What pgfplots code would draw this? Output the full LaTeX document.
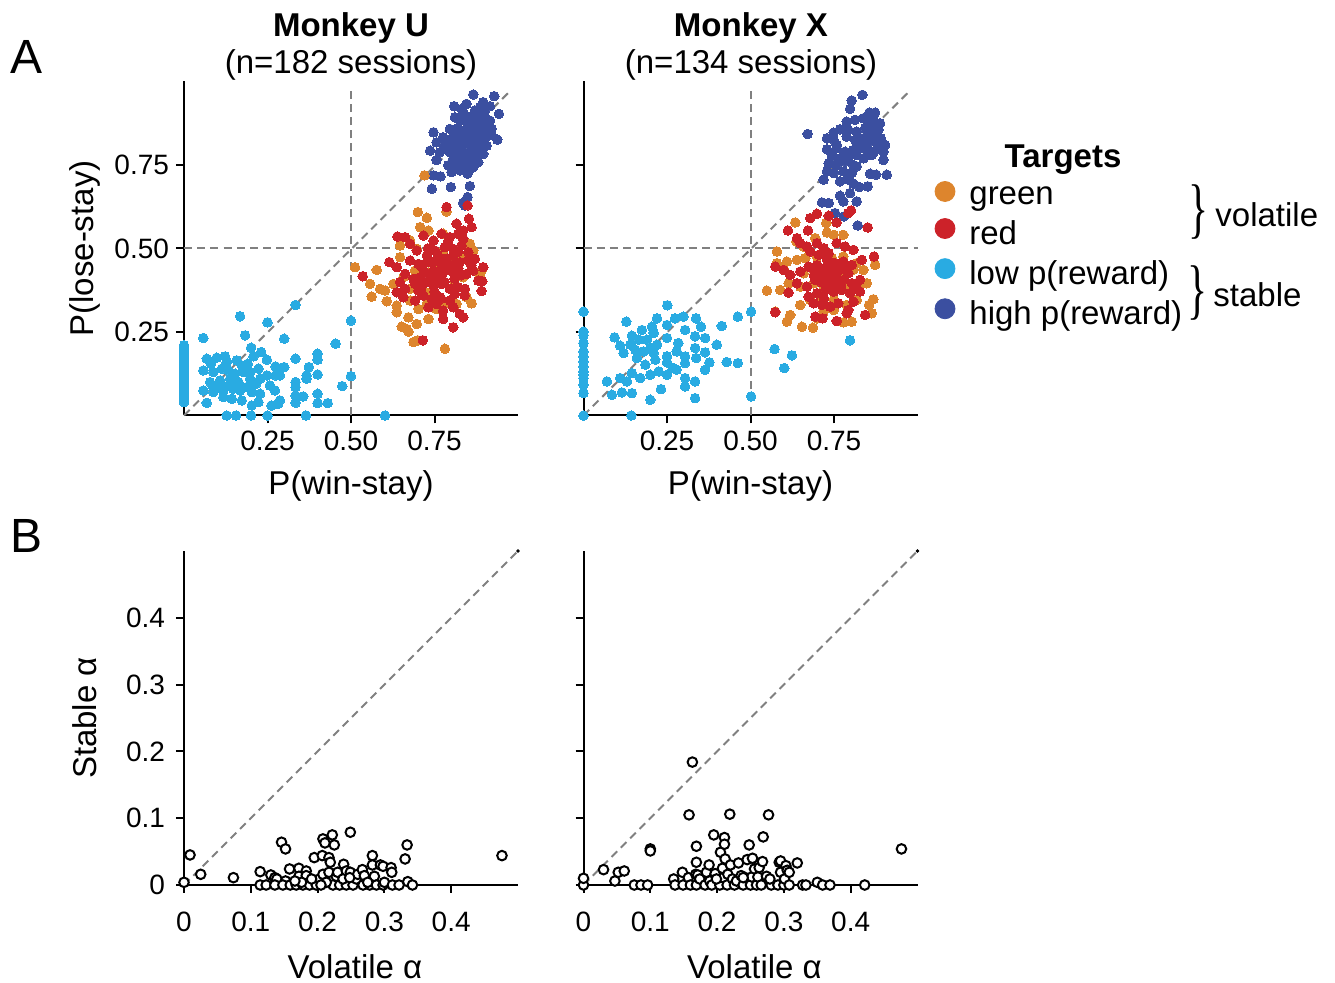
\documentclass[border=0pt]{standalone}
\usepackage{fontspec}
\setmainfont{Liberation Sans}
\newfontfamily\seriffont{Liberation Serif}
\usepackage{pgfplots}
\pgfplotsset{compat=1.18}
\definecolor{cOr}{RGB}{221,133,45}
\definecolor{cRd}{RGB}{204,34,41}
\definecolor{cLb}{RGB}{41,171,226}
\definecolor{cDb}{RGB}{59,79,160}
\definecolor{dgray}{RGB}{128,128,128}
\newcommand{\tickfont}{\fontsize{14}{16}\selectfont}
\newcommand{\labfont}{\fontsize{16.5}{19}\selectfont}
\newcommand{\bigbrace}{\scalebox{0.95}[1.5]{\seriffont\fontsize{22}{22}\selectfont\}}}
\pgfplotsset{
  myax/.style={width=167pt,height=167pt,scale only axis,
    axis lines=left, axis line style={-,line width=1pt,black},
    tick align=outside, major tick length=4pt,
    tick style={line width=1pt,black}, clip=false,
    ticklabel style={font=\tickfont},
    /pgf/number format/assume math mode=true,
    label style={font=\labfont}},
  dot/.style={only marks, mark=*, mark size=2.4pt, color=#1,
    mark options={draw=#1,fill=#1,line width=0pt}, forget plot},
  ring/.style={only marks, mark=*, mark size=2.4pt,
    mark options={draw=black,fill=white,line width=1pt}, forget plot},
  dashln/.style={no marks, dgray, line width=1pt, dash pattern=on 4pt off 2.6pt, forget plot},
}
\begin{document}
\begin{tikzpicture}
\path[use as bounding box] (0,0) rectangle (667.5pt,-491.5pt);
% panel letters and titles
\node[font=\fontsize{24}{28}\selectfont] at (13.5pt,-28.5pt) {A};
\node[font=\fontsize{24}{28}\selectfont] at (13.5pt,-268pt) {B};
\node[font=\labfont\bfseries] at (175.5pt,-14pt) {Monkey U};
\node[font=\labfont] at (175.5pt,-32.5pt) {(n=182 sessions)};
\node[font=\labfont\bfseries] at (375.5pt,-14pt) {Monkey X};
\node[font=\labfont] at (375.5pt,-32.5pt) {(n=134 sessions)};
\node[font=\labfont\bfseries] at (531.5pt,-80pt) {Targets};
\node[inner sep=0pt] at (599.5pt,-106.25pt) {\bigbrace};
\node[anchor=west,inner sep=0pt,font=\labfont] at (607.5pt,-107.5pt) {volatile};
\node[inner sep=0pt] at (599pt,-146.5pt) {\bigbrace};
\node[anchor=west,inner sep=0pt,font=\labfont] at (606.5pt,-147.5pt) {stable};

% ---------------- A, Monkey U
\begin{axis}[myax, at={(92pt,-207.75pt)}, anchor=south west,
  xmin=0,xmax=1,ymin=0,ymax=1,
  xtick={0.25,0.5,0.75}, xticklabels={0.25,0.50,0.75},
  ytick={0.25,0.5,0.75}, yticklabels={0.25,0.50,0.75},
  xlabel={P(win-stay)}, ylabel={P(lose-stay)},
  xlabel style={at={(0.5,-0.21)},anchor=center},
  ylabel style={at={(-0.296,0.5)},anchor=center}]
\addplot[dashln] coordinates {(0.5,0) (0.5,0.98)};
\addplot[dashln] coordinates {(0,0.5) (1,0.5)};
\addplot[dashln] coordinates {(0,0) (0.97,0.965)};
% low p(reward)
\addplot[dot=cLb] coordinates {
(0,0.21)(0,0.20)(0,0.19)(0,0.18)(0,0.17)(0,0.16)(0,0.15)(0,0.14)(0,0.13)(0,0.12)(0,0.11)(0,0.10)(0,0.09)(0,0.08)(0,0.07)(0,0.06)(0,0.05)(0,0.04)
(0.058,0.232)(0.168,0.297)(0.250,0.279)(0.334,0.331)(0.500,0.284)(0.183,0.240)(0.300,0.230)(0.454,0.215)
(0.201,0.203)(0.231,0.190)(0.068,0.170)(0.098,0.173)(0.123,0.177)(0.128,0.160)(0.081,0.155)(0.158,0.165)
(0.173,0.150)(0.191,0.155)(0.208,0.177)(0.248,0.167)(0.334,0.170)(0.400,0.185)(0.400,0.167)(0.274,0.147)
(0.300,0.145)(0.058,0.135)(0.088,0.130)(0.113,0.140)(0.133,0.135)(0.153,0.125)(0.178,0.130)(0.198,0.130)
(0.223,0.140)(0.248,0.120)(0.274,0.120)(0.287,0.120)(0.374,0.145)(0.367,0.120)(0.400,0.123)(0.500,0.118)
(0.078,0.100)(0.108,0.105)(0.138,0.110)(0.163,0.100)(0.198,0.110)(0.228,0.110)(0.257,0.090)(0.334,0.100)
(0.334,0.085)(0.367,0.110)(0.474,0.088)(0.058,0.075)(0.088,0.070)(0.118,0.075)(0.148,0.080)(0.168,0.075)
(0.203,0.070)(0.228,0.065)(0.272,0.075)(0.334,0.060)(0.357,0.057)(0.400,0.065)(0.118,0.055)(0.143,0.050)
(0.173,0.045)(0.203,0.030)(0.223,0.040)(0.262,0.030)(0.282,0.035)(0.287,0.045)(0.334,0.038)(0.400,0.037)
(0.430,0.037)(0.068,0.038)(0.128,0.000)(0.156,0)(0.201,0)(0.250,0)(0.365,0)(0.602,0)
(0.108,0.090)(0.158,0.090)(0.088,0.085)(0.188,0.085)(0.216,0.095)(0.133,0.090)
};
% high p(reward)
\addplot[dot=cDb] coordinates {
(0.866,0.961)(0.929,0.956)(0.809,0.926)(0.846,0.933)(0.886,0.923)(0.916,0.926)(0.943,0.903)(0.836,0.908)
(0.856,0.893)(0.876,0.903)(0.901,0.893)(0.826,0.883)(0.851,0.873)(0.881,0.878)(0.906,0.868)(0.921,0.858)
(0.747,0.848)(0.796,0.858)(0.816,0.848)(0.841,0.853)(0.866,0.853)(0.891,0.848)(0.911,0.843)(0.776,0.833)
(0.801,0.828)(0.826,0.833)(0.851,0.828)(0.876,0.823)(0.901,0.828)(0.938,0.826)(0.756,0.818)(0.786,0.813)
(0.811,0.808)(0.836,0.808)(0.861,0.803)(0.886,0.803)(0.906,0.808)(0.766,0.788)(0.796,0.788)(0.821,0.783)
(0.846,0.783)(0.871,0.778)(0.896,0.783)(0.756,0.765)(0.806,0.768)(0.831,0.763)(0.856,0.763)(0.881,0.758)
(0.791,0.749)(0.816,0.744)(0.841,0.749)(0.866,0.744)(0.826,0.734)(0.801,0.729)(0.849,0.724)(0.747,0.719)
(0.768,0.716)(0.742,0.679)(0.799,0.684)(0.856,0.687)(0.849,0.654)(0.836,0.637)(0.841,0.629)(0.737,0.793)
(0.916,0.883)(0.896,0.938)(0.831,0.918)(0.871,0.913)(0.811,0.893)(0.861,0.838)(0.826,0.803)(0.891,0.818)
(0.82,0.86)(0.86,0.87)(0.84,0.82)(0.87,0.84)(0.89,0.86)(0.83,0.79)(0.88,0.80)(0.85,0.77)(0.80,0.81)(0.87,0.89)
(0.90,0.91)(0.84,0.90)(0.86,0.81)(0.81,0.84)(0.89,0.79)(0.85,0.84)(0.78,0.80)(0.92,0.84)(0.83,0.75)(0.86,0.74)
};
% green (orange)
\addplot[dot=cOr] coordinates {
(0.720,0.719)(0.700,0.609)(0.727,0.592)(0.786,0.611)(0.707,0.564)(0.732,0.554)(0.776,0.544)(0.647,0.509)
(0.677,0.524)(0.697,0.499)(0.856,0.514)(0.512,0.444)(0.577,0.436)(0.557,0.394)(0.587,0.379)(0.602,0.374)
(0.627,0.394)(0.657,0.414)(0.677,0.379)(0.707,0.384)(0.737,0.369)(0.761,0.414)(0.811,0.394)(0.836,0.414)
(0.886,0.419)(0.891,0.434)(0.562,0.356)(0.607,0.342)(0.637,0.329)(0.677,0.344)(0.702,0.319)(0.727,0.334)
(0.756,0.319)(0.781,0.334)(0.816,0.334)(0.846,0.354)(0.861,0.336)(0.637,0.309)(0.672,0.294)(0.697,0.274)
(0.732,0.289)(0.652,0.266)(0.667,0.259)(0.672,0.251)(0.687,0.220)(0.700,0.225)(0.781,0.200)(0.756,0.439)
(0.801,0.459)(0.836,0.474)(0.692,0.434)(0.732,0.429)(0.647,0.474)(0.866,0.494)(0.776,0.489)
};
% red
\addplot[dot=cRd] coordinates {
(0.786,0.624)(0.849,0.629)(0.816,0.574)(0.836,0.554)(0.853,0.589)(0.861,0.564)(0.639,0.536)(0.662,0.534)
(0.677,0.514)(0.717,0.539)(0.747,0.524)(0.771,0.544)(0.796,0.534)(0.821,0.544)(0.836,0.529)(0.697,0.494)
(0.727,0.479)(0.751,0.494)(0.781,0.504)(0.806,0.499)(0.831,0.509)(0.851,0.489)(0.677,0.464)(0.702,0.454)
(0.727,0.459)(0.756,0.464)(0.781,0.469)(0.806,0.479)(0.826,0.459)(0.851,0.464)(0.871,0.469)(0.896,0.444)
(0.535,0.417)(0.615,0.459)(0.637,0.444)(0.662,0.424)(0.687,0.409)(0.717,0.424)(0.747,0.434)(0.771,0.419)
(0.796,0.434)(0.821,0.439)(0.846,0.424)(0.866,0.434)(0.881,0.404)(0.893,0.402)(0.891,0.373)(0.637,0.369)
(0.662,0.379)(0.692,0.394)(0.717,0.394)(0.747,0.389)(0.771,0.394)(0.796,0.379)(0.821,0.384)(0.841,0.379)
(0.657,0.354)(0.692,0.344)(0.717,0.359)(0.742,0.349)(0.766,0.354)(0.796,0.344)(0.811,0.364)(0.732,0.324)
(0.756,0.334)(0.776,0.314)(0.806,0.324)(0.826,0.304)(0.836,0.294)(0.776,0.289)(0.806,0.264)(0.715,0.225)
(0.712,0.444)(0.737,0.409)(0.786,0.459)(0.811,0.419)(0.702,0.374)(0.647,0.399)
(0.74,0.46)(0.77,0.44)(0.79,0.47)(0.76,0.41)(0.81,0.45)(0.72,0.43)(0.78,0.40)(0.83,0.42)(0.75,0.37)(0.80,0.38)
(0.73,0.50)(0.82,0.49)(0.79,0.52)(0.70,0.41)(0.86,0.45)(0.77,0.35)(0.84,0.36)(0.71,0.38)(0.76,0.48)(0.81,0.41)
};
\end{axis}

% ---------------- A, Monkey X
\begin{axis}[myax, at={(291.75pt,-207.75pt)}, anchor=south west,
  xmin=0,xmax=1,ymin=0,ymax=1,
  xtick={0.25,0.5,0.75}, xticklabels={0.25,0.50,0.75},
  ytick={0.25,0.5,0.75}, yticklabels={},
  xlabel={P(win-stay)},
  xlabel style={at={(0.5,-0.21)},anchor=center},
  legend style={draw=none,fill=none,at={(1.05,0.703)},anchor=north west,
    font=\labfont, row sep=2.6pt, inner sep=0pt},
  legend cell align=left,
  legend image code/.code={\fill[#1] (0pt,0.28em) circle (5pt); \path (-5pt,0.28em) (10pt,0.28em);}]
\addplot[dashln] coordinates {(0.5,0) (0.5,0.98)};
\addplot[dashln] coordinates {(0,0.5) (1,0.5)};
\addplot[dashln] coordinates {(0,0) (0.97,0.965)};
\addplot[dot=cLb] coordinates {
(0,0.311)(0,0.251)(0,0.241)(0,0.217)(0,0.192)(0,0.177)(0,0.162)(0,0.147)(0,0.132)(0,0.122)(0,0.112)(0,0.092)(0,0.067)(0,0.0)
(0.251,0.330)(0.128,0.281)(0.093,0.234)(0.145,0.239)(0.175,0.256)(0.205,0.266)(0.220,0.291)(0.210,0.247)
(0.250,0.271)(0.274,0.291)(0.299,0.296)(0.337,0.291)(0.352,0.266)(0.414,0.268)(0.462,0.296)(0.502,0.311)
(0.110,0.209)(0.140,0.212)(0.165,0.227)(0.190,0.227)(0.220,0.212)(0.250,0.232)(0.284,0.217)(0.304,0.256)
(0.334,0.237)(0.364,0.232)(0.399,0.212)(0.120,0.187)(0.155,0.197)(0.180,0.192)(0.210,0.187)(0.250,0.177)
(0.279,0.192)(0.304,0.177)(0.334,0.202)(0.364,0.189)(0.185,0.152)(0.215,0.167)(0.250,0.159)(0.269,0.142)
(0.304,0.157)(0.337,0.172)(0.377,0.159)(0.429,0.160)(0.462,0.157)(0.070,0.102)(0.110,0.112)(0.145,0.127)
(0.170,0.112)(0.200,0.122)(0.225,0.132)(0.250,0.122)(0.279,0.137)(0.304,0.112)(0.334,0.102)(0.364,0.137)
(0.085,0.062)(0.115,0.069)(0.145,0.067)(0.200,0.047)(0.232,0.079)(0.304,0.087)(0.334,0.052)(0.143,0)
(0.502,0.057)(0.572,0.199)(0.624,0.180)(0.601,0.142)(0.798,0.225)(0.200,0.202)(0.160,0.172)(0.130,0.102)
};
\addplot[dot=cDb] coordinates {
(0.835,0.960)(0.803,0.943)(0.798,0.918)(0.856,0.907)(0.873,0.907)(0.813,0.885)(0.788,0.880)(0.838,0.890)
(0.868,0.885)(0.888,0.875)(0.671,0.843)(0.749,0.847)(0.768,0.857)(0.793,0.855)(0.818,0.850)(0.843,0.860)
(0.863,0.850)(0.883,0.855)(0.729,0.830)(0.749,0.825)(0.788,0.835)(0.813,0.825)(0.838,0.830)(0.858,0.820)
(0.878,0.830)(0.903,0.810)(0.729,0.797)(0.758,0.800)(0.783,0.790)(0.808,0.795)(0.828,0.800)(0.848,0.795)
(0.868,0.790)(0.898,0.790)(0.744,0.775)(0.768,0.770)(0.793,0.775)(0.818,0.780)(0.838,0.770)(0.863,0.780)
(0.734,0.755)(0.758,0.750)(0.783,0.760)(0.808,0.750)(0.898,0.765)(0.729,0.731)(0.749,0.726)(0.778,0.731)
(0.803,0.726)(0.858,0.724)(0.876,0.721)(0.908,0.721)(0.719,0.706)(0.768,0.701)(0.793,0.706)(0.808,0.694)
(0.826,0.684)(0.851,0.686)(0.768,0.658)(0.798,0.666)(0.714,0.638)(0.734,0.636)(0.778,0.641)(0.818,0.641)
(0.753,0.606)(0.780,0.596)(0.821,0.569)(0.758,0.810)(0.823,0.810)(0.853,0.840)(0.818,0.746)
(0.85,0.82)(0.87,0.84)(0.84,0.80)(0.88,0.81)(0.86,0.86)(0.83,0.83)(0.89,0.83)(0.85,0.78)(0.87,0.79)(0.82,0.81)(0.86,0.88)(0.88,0.87)
};
\addplot[dot=cOr] coordinates {
(0.634,0.578)(0.727,0.576)(0.579,0.491)(0.637,0.521)(0.659,0.506)(0.694,0.531)(0.729,0.548)(0.749,0.541)
(0.778,0.541)(0.579,0.456)(0.609,0.461)(0.639,0.466)(0.664,0.471)(0.699,0.476)(0.744,0.471)(0.778,0.476)
(0.818,0.456)(0.873,0.451)(0.549,0.374)(0.589,0.376)(0.614,0.396)(0.649,0.386)(0.689,0.396)(0.719,0.386)
(0.753,0.396)(0.788,0.386)(0.833,0.396)(0.848,0.396)(0.659,0.426)(0.689,0.436)(0.773,0.426)(0.808,0.436)
(0.838,0.436)(0.574,0.311)(0.619,0.301)(0.649,0.331)(0.679,0.346)(0.714,0.356)(0.749,0.346)(0.788,0.331)
(0.818,0.346)(0.868,0.348)(0.855,0.331)(0.863,0.306)(0.609,0.281)(0.654,0.266)(0.687,0.263)(0.699,0.291)
(0.719,0.311)(0.778,0.279)(0.803,0.281)(0.749,0.316)(0.599,0.439)(0.704,0.441)
};
\addplot[dot=cRd] coordinates {
(0.679,0.591)(0.699,0.604)(0.734,0.598)(0.758,0.578)(0.793,0.606)(0.801,0.614)(0.851,0.563)(0.612,0.554)
(0.672,0.554)(0.639,0.531)(0.649,0.516)(0.669,0.506)(0.699,0.516)(0.719,0.501)(0.734,0.486)(0.758,0.516)
(0.783,0.506)(0.808,0.496)(0.679,0.491)(0.704,0.481)(0.729,0.466)(0.753,0.456)(0.778,0.461)(0.803,0.451)
(0.833,0.466)(0.870,0.476)(0.574,0.446)(0.599,0.436)(0.619,0.421)(0.649,0.431)(0.674,0.446)(0.699,0.436)
(0.719,0.431)(0.744,0.441)(0.768,0.436)(0.793,0.426)(0.828,0.406)(0.614,0.368)(0.639,0.396)(0.669,0.386)
(0.694,0.406)(0.714,0.411)(0.734,0.396)(0.758,0.416)(0.778,0.406)(0.803,0.396)(0.818,0.381)(0.828,0.371)
(0.674,0.356)(0.699,0.366)(0.724,0.376)(0.749,0.371)(0.773,0.376)(0.798,0.366)(0.689,0.336)(0.714,0.331)
(0.739,0.326)(0.763,0.336)(0.793,0.316)(0.808,0.341)(0.574,0.309)(0.694,0.296)(0.716,0.291)(0.758,0.283)
(0.788,0.306)(0.843,0.301)
(0.72,0.44)(0.74,0.42)(0.71,0.40)(0.76,0.43)(0.73,0.38)(0.75,0.40)(0.70,0.45)(0.77,0.39)(0.72,0.35)(0.78,0.44)(0.69,0.42)(0.74,0.46)
};
\addlegendimage{color=cOr}\addlegendentry{green}
\addlegendimage{color=cRd}\addlegendentry{red}
\addlegendimage{color=cLb}\addlegendentry{low p(reward)}
\addlegendimage{color=cDb}\addlegendentry{high p(reward)}
\end{axis}

% ---------------- B, Monkey U
\begin{axis}[myax, at={(92pt,-442.5pt)}, anchor=south west,
  xmin=0,xmax=0.5,ymin=0,ymax=0.5,
  xtick={0,0.1,0.2,0.3,0.4}, xticklabels={0,0.1,0.2,0.3,0.4},
  ytick={0,0.1,0.2,0.3,0.4}, yticklabels={0,0.1,0.2,0.3,0.4},
  xticklabel style={yshift=-6pt}, yticklabel style={xshift=-2pt},
  xlabel={Volatile α}, ylabel={Stable α},
  xlabel style={at={(0.512,-0.2455)},anchor=center},
  ylabel style={at={(-0.296,0.5)},anchor=center}]
\addplot[dashln] coordinates {(0,0) (0.5,0.5)};
\addplot[only marks, mark=*, mark size=0.7pt, black, forget plot] coordinates {(0.5,0.5)};
\addplot[ring] coordinates {
(0.000,0.004)(0.009,0.045)(0.025,0.016)(0.074,0.011)(0.114,0.020)(0.114,0)(0.123,0)(0.130,0.015)
(0.136,0.011)(0.139,0.009)(0.146,0.064)(0.152,0.054)(0.152,0.006)(0.136,0)(0.148,0)(0.158,0.024)
(0.159,0)(0.168,0)(0.172,0.025)(0.172,0.013)(0.178,0)(0.183,0.021)(0.183,0.014)(0.188,0)
(0.195,0.041)(0.198,0)(0.203,0.009)(0.207,0.044)(0.208,0.016)(0.208,0.069)(0.211,0.063)(0.217,0.041)
(0.219,0.034)(0.217,0.019)(0.222,0.075)(0.225,0.060)(0.228,0.013)(0.223,0)(0.230,0.019)(0.233,0)
(0.239,0.031)(0.243,0.021)(0.243,0)(0.249,0.079)(0.249,0.019)(0.253,0)(0.258,0.009)(0.260,0.016)
(0.267,0.023)(0.268,0)(0.270,0.014)(0.278,0)(0.282,0.044)(0.282,0.030)(0.285,0.013)(0.288,0)
(0.294,0.030)(0.298,0.028)(0.298,0)(0.300,0.004)(0.310,0.026)(0.311,0.019)(0.312,0)(0.322,0)
(0.331,0.039)(0.334,0.060)(0.335,0.005)(0.342,0)(0.476,0.044)(0.176,0.004)(0.213,0.004)(0.238,0.009)
(0.205,0)(0.166,0.006)(0.248,0.011)(0.275,0.004)(0.191,0.009)
};
\end{axis}

% ---------------- B, Monkey X
\begin{axis}[myax, at={(291.75pt,-442.5pt)}, anchor=south west,
  xmin=0,xmax=0.5,ymin=0,ymax=0.5,
  xtick={0,0.1,0.2,0.3,0.4}, xticklabels={0,0.1,0.2,0.3,0.4},
  ytick={0,0.1,0.2,0.3,0.4}, yticklabels={},
  xticklabel style={yshift=-6pt},
  xlabel={Volatile α},
  xlabel style={at={(0.512,-0.2455)},anchor=center}]
\addplot[dashln] coordinates {(0,0) (0.5,0.5)};
\addplot[only marks, mark=*, mark size=0.7pt, black, forget plot] coordinates {(0.5,0.5)};
\addplot[ring] coordinates {
(0,0)(0,0.010)(0.030,0.023)(0.047,0.006)(0.052,0.019)(0.061,0.021)(0.076,0)(0.086,0)
(0.096,0)(0.100,0.054)(0.100,0.051)(0.135,0.009)(0.137,0)(0.148,0.019)(0.149,0)(0.157,0.011)
(0.158,0.105)(0.160,0)(0.163,0.184)(0.168,0.016)(0.169,0)(0.169,0.058)(0.169,0.034)(0.171,0.015)
(0.174,0.009)(0.182,0)(0.184,0.019)(0.188,0.030)(0.189,0.006)(0.192,0)(0.195,0.075)(0.197,0.017)
(0.204,0)(0.205,0.049)(0.208,0.025)(0.209,0.011)(0.211,0.071)(0.211,0.061)(0.212,0.039)(0.215,0)
(0.216,0.016)(0.219,0.106)(0.220,0.030)(0.223,0.009)(0.226,0)(0.229,0.006)(0.232,0.033)(0.236,0.014)
(0.239,0)(0.242,0.011)(0.245,0.038)(0.248,0.060)(0.250,0)(0.252,0.012)(0.253,0.040)(0.256,0.024)
(0.259,0)(0.261,0.012)(0.263,0.026)(0.266,0)(0.268,0.035)(0.269,0.072)(0.274,0.013)(0.277,0.105)
(0.281,0)(0.291,0)(0.293,0.034)(0.295,0.036)(0.295,0.019)(0.300,0)(0.301,0.009)(0.303,0.029)
(0.305,0.022)(0.308,0)(0.308,0.019)(0.320,0.033)(0.328,0)(0.333,0)(0.350,0.004)(0.358,0)
(0.369,0)(0.421,0)(0.476,0.054)(0.239,0.011)(0.199,0.009)(0.279,0.009)
};
\end{axis}
\end{tikzpicture}
\end{document}
